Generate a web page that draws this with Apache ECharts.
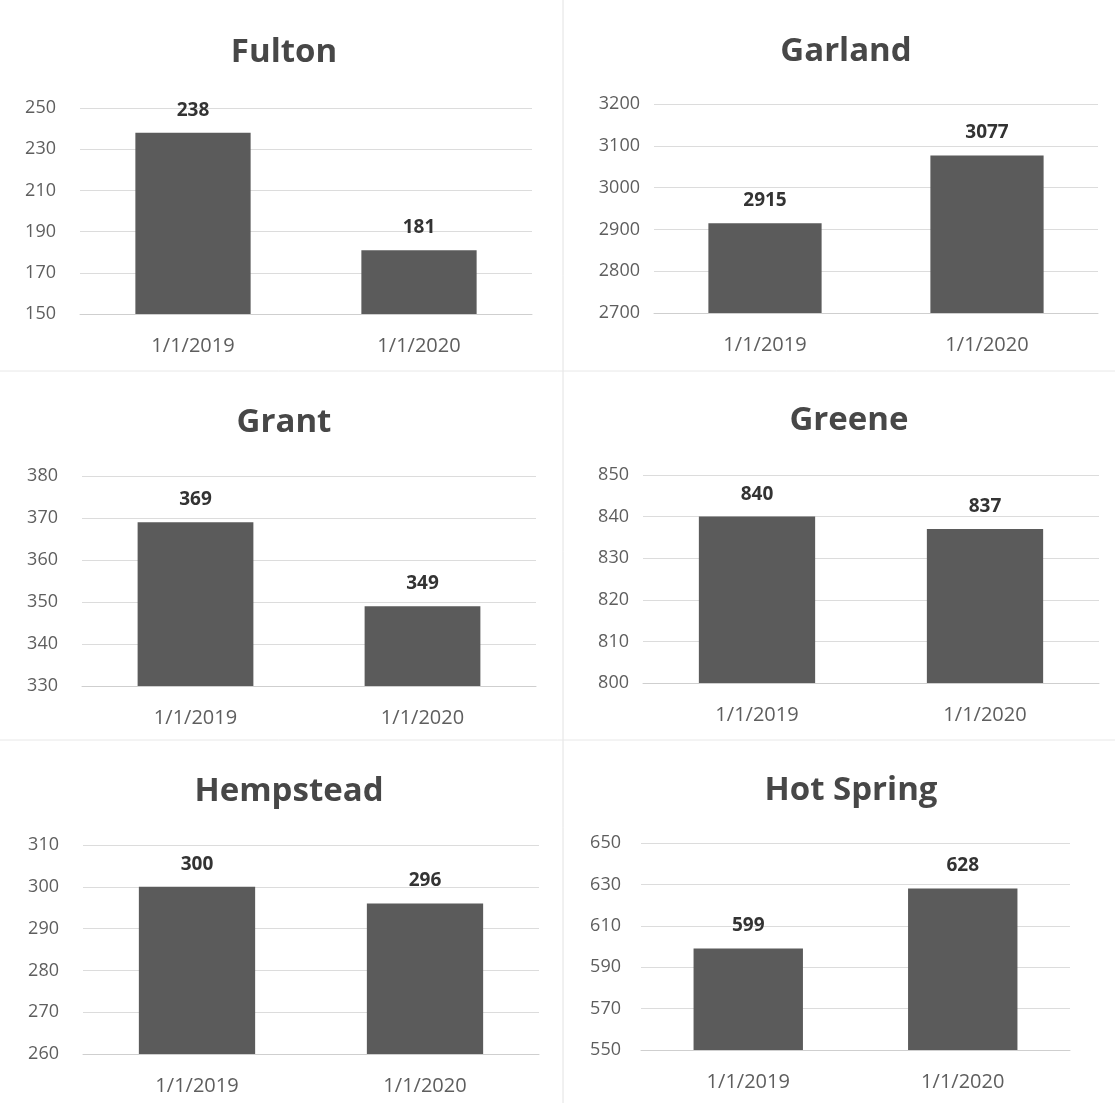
<!DOCTYPE html>
<html><head><meta charset="utf-8">
<script src="https://cdn.jsdelivr.net/npm/echarts@6/dist/echarts.min.js"></script>
<style>html,body{margin:0;padding:0;background:#fff}#c{width:1115px;height:1103px}</style>
</head><body><div id="c"></div>
<script>
const categories = ['1/1/2019', '1/1/2020'];
const counties = ['Fulton', 'Garland', 'Grant', 'Greene', 'Hempstead', 'Hot Spring'];
const fultonValues = [238, 181];
const garlandValues = [2915, 3077];
const grantValues = [369, 349];
const greeneValues = [840, 837];
const hempsteadValues = [300, 296];
const hotSpringValues = [599, 628];
const axisMins = [150, 2700, 330, 800, 260, 550];
const axisMaxs = [250, 3200, 380, 850, 310, 650];
const axisSteps = [20, 100, 10, 10, 10, 20];
const allValues = [fultonValues, garlandValues, grantValues, greeneValues, hempsteadValues, hotSpringValues];

const grids = [
  {left: 80, width: 452, top: 108, height: 206},
  {left: 654, width: 444, top: 104, height: 209},
  {left: 82, width: 454, top: 476, height: 210},
  {left: 643, width: 456, top: 475, height: 208},
  {left: 83, width: 456, top: 845, height: 209},
  {left: 641, width: 429, top: 843, height: 207}
];
const labelMargins = [24, 14, 24, 14, 24, 20];
const titlePos = [
  {x: 279, y: 48}, {x: 841, y: 47}, {x: 279, y: 418},
  {x: 844, y: 416}, {x: 284, y: 787}, {x: 846, y: 786}
];
const font = '"Open Sans", "Liberation Sans", sans-serif';
const barColor = '#5b5b5b';

const option = {
  backgroundColor: '#fff',
  animation: false,
  title: counties.map((n, i) => ({
    text: n, left: titlePos[i].x, top: titlePos[i].y, textAlign: 'center', textVerticalAlign: 'middle',
    textStyle: {fontFamily: font, fontSize: 33, fontWeight: 'bold', color: '#474747'}
  })),
  grid: grids.map(g => Object.assign({containLabel: false}, g)),
  xAxis: counties.map((n, i) => ({
    type: 'category', gridIndex: i, data: categories,
    axisLine: {lineStyle: {color: '#cfcfcf'}},
    axisTick: {show: false},
    axisLabel: {fontFamily: font, fontSize: 20, color: '#5e5e5e', margin: 22}
  })),
  yAxis: counties.map((n, i) => ({
    type: 'value', gridIndex: i, min: axisMins[i], max: axisMaxs[i], interval: axisSteps[i],
    axisLine: {show: false}, axisTick: {show: false},
    splitLine: {lineStyle: {color: '#dcdcdc'}},
    axisLabel: {fontFamily: font, fontSize: 18, color: '#5e5e5e', margin: labelMargins[i], formatter: v => String(v)}
  })),
  series: counties.map((n, i) => ({
    type: 'bar', xAxisIndex: i, yAxisIndex: i, data: allValues[i], barWidth: '51%',
    itemStyle: {color: barColor},
    label: {show: true, position: 'top', distance: 13, fontFamily: font, fontSize: 19, fontWeight: 'bold', color: '#333'}
  })),
  graphic: [
    {type: 'line', shape: {x1: 563, y1: 0, x2: 563, y2: 1103}, style: {stroke: '#e2e2e2', lineWidth: 1}},
    {type: 'line', shape: {x1: 0, y1: 371, x2: 1115, y2: 371}, style: {stroke: '#e8e8e8', lineWidth: 1}},
    {type: 'line', shape: {x1: 0, y1: 740, x2: 1115, y2: 740}, style: {stroke: '#e8e8e8', lineWidth: 1}}
  ]
};
echarts.init(document.getElementById('c'), null, {renderer: 'canvas'}).setOption(option);
</script></body></html>
